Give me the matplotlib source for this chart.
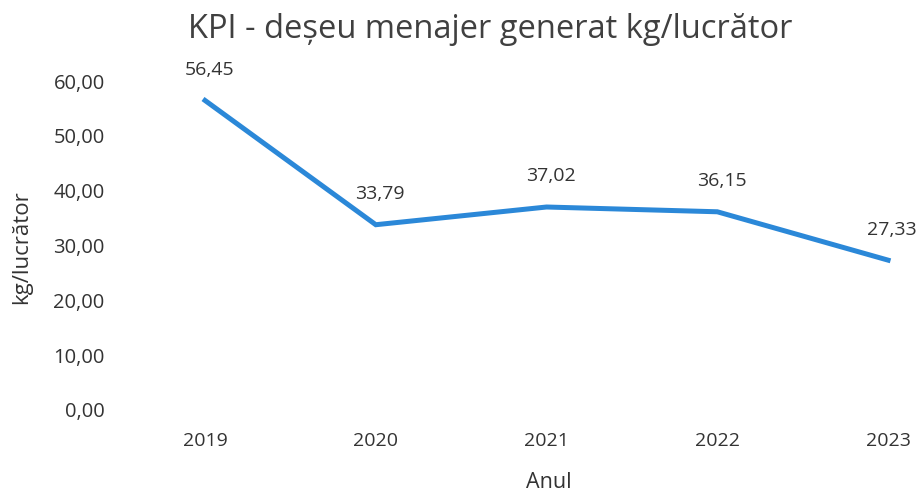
import matplotlib
matplotlib.use("Agg")
import matplotlib.pyplot as plt

years = ["2019", "2020", "2021", "2022", "2023"]
values = [56.45, 33.79, 37.02, 36.15, 27.33]
labels = ["56,45", "33,79", "37,02", "36,15", "27,33"]
yticks = [0, 10, 20, 30, 40, 50, 60]
title = "KPI - deșeu menajer generat kg/lucrător"

plt.rcParams['font.family'] = ['Open Sans', 'DejaVu Sans']
fig = plt.figure(figsize=(9.24, 4.95), dpi=100)
ax = fig.add_axes([120/924, 1-410/495, 800/924, (410-81)/495])
x = list(range(len(years)))
ax.plot(x, values, color="#2B88D8", lw=3.6, solid_joinstyle='miter')
for xi, v, l in zip(x, values, labels):
    ax.annotate(l, (xi, v), xytext=(3, 22), textcoords='offset points',
                ha='center', va='center', fontsize=14, color='#333333')
ax.set_xlim(-0.498, 4.187)
ax.set_ylim(0, 60)
ax.set_yticks(yticks)
ax.set_yticklabels([f"{t:.2f}".replace('.', ',') for t in yticks])
ax.set_xticks(x)
ax.set_xticklabels(years)
for s in ax.spines.values():
    s.set_visible(False)
ax.tick_params(axis='y', length=0, labelsize=14.5, labelcolor='#333333', pad=11)
ax.tick_params(axis='x', length=0, labelsize=14, labelcolor='#333333', pad=16)
fig.text(490/924, 1-30/495, title, ha='center', va='center', fontsize=23.5, color='#404040')
fig.text(549/924, 1-482/495, "Anul", ha='center', va='center', fontsize=15.5, color='#333333')
fig.text(22/924, 1-247/495, "kg/lucrător", ha='center', va='center', fontsize=16, color='#333333', rotation=90)
fig.savefig("out.png", dpi=100)
